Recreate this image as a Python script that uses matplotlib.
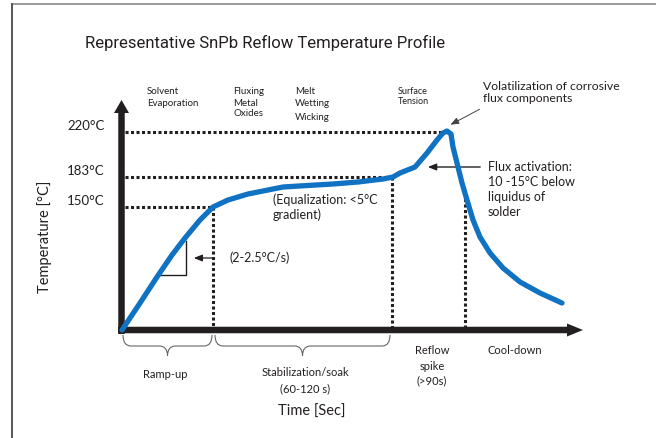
import numpy as np
import matplotlib.pyplot as plt
from matplotlib.path import Path
from matplotlib.patches import PathPatch, FancyArrow

# schematic reflow profile: time (s, not to scale) vs temperature (°C)
time_s = [0, 18, 35, 50, 63, 78, 91, 106, 126, 161, 191, 211, 236, 261,
          271, 278, 293, 305, 315, 321, 325, 329, 331, 335, 340, 345, 351,
          358, 368, 381, 398, 418, 440]
temp_c = [25, 52.4, 78.9, 101.2, 118.5, 136.8, 150, 157.7, 164.3, 172, 174,
          175.3, 177.5, 180.8, 183, 186.3, 191.2, 202.7, 213.4, 219.2, 220.8,
          218.3, 207.6, 194.5, 176.4, 157.7, 136.8, 119.5, 103.3, 88, 73.8,
          62.6, 52.4]

temp_levels = [150, 183, 220]
temp_labels = ["150°C", "183°C", "220°C"]
level_ends = [91, 271, 322]      # where each dotted level meets the curve
phase_ends = [91, 270, 343]      # ramp-up, soak, reflow spike

# the temperature axis of the original is not to scale
scale_c = [-200, 25, 150, 183, 220, 400]
scale_h = [-225, 0, 123, 153, 198, 417]


def fwd(c):
    return np.interp(c, scale_c, scale_h)


def inv(h):
    return np.interp(h, scale_h, scale_c)


W, H = 656, 438
INK = "#231f20"
BLUE = "#1072c2"
GILL = "Lato"

fig = plt.figure(figsize=(W / 100, H / 100), dpi=100)

# layout layer in pixel units
lay = fig.add_axes([0, 0, 1, 1])
lay.set_xlim(0, W)
lay.set_ylim(H, 0)
lay.axis("off")

# data layer
ax = fig.add_axes([122 / W, (H - 330) / H, 500 / W, 250 / H])
ax.set_yscale("function", functions=(fwd, inv))
ax.set_xlim(0, 500)
ax.set_ylim(25, inv(250))
ax.axis("off")
ax.patch.set_alpha(0)

# frame of the original picture
lay.plot([12, W], [4, 4], color="#8a8a8a", lw=1.2)
lay.plot([12, 12], [4, H], color="#3a3a3a", lw=1.2)

# axes arrows
lay.add_patch(FancyArrow(121.5, 334, 0, -234, width=6.5, head_width=15,
                         head_length=13, length_includes_head=True, color=INK, lw=0))
lay.add_patch(FancyArrow(118, 330, 465, 0, width=6.5, head_width=13,
                         head_length=16, length_includes_head=True, color=INK, lw=0))

dots = dict(color=INK, lw=2.2, ls=(0, (1.0, 0.8)), clip_on=False)
for lvl, t_end in zip(temp_levels, level_ends):
    ax.plot([3, t_end], [lvl, lvl], **dots)
curve_at = np.interp(phase_ends, time_s, temp_c)
for t, top in zip(phase_ends, curve_at):
    ax.plot([t, t], [top, 25], **dots)

ax.plot(time_s, temp_c, color=BLUE, lw=3.8, solid_joinstyle="round",
        solid_capstyle="round", clip_on=False, zorder=5)

for lvl, lab in zip(temp_levels, temp_labels):
    ax.annotate(lab, xy=(0, lvl), xycoords=("axes fraction", "data"),
                xytext=(-12.5, 4), textcoords="offset points", ha="right",
                va="center", fontsize=9.5, family=GILL, color=INK)


def brace(x0, x1, y0=335, d1=11, d2=21, r=8):
    xm = (x0 + x1) / 2
    verts = [(x0, y0), (x0, y0 + d1), (x0 + r, y0 + d1),
             (xm - r, y0 + d1),
             (xm, y0 + d1), (xm, y0 + d2),
             (xm, y0 + d1), (xm + r, y0 + d1),
             (x1 - r, y0 + d1),
             (x1, y0 + d1), (x1, y0)]
    codes = [Path.MOVETO, Path.CURVE3, Path.CURVE3, Path.LINETO,
             Path.CURVE3, Path.CURVE3, Path.CURVE3, Path.CURVE3,
             Path.LINETO, Path.CURVE3, Path.CURVE3]
    lay.add_patch(PathPatch(Path(verts, codes), fill=False, ec="#666666", lw=0.8))


brace(123, 212)
brace(215, 390)

# slope triangle
lay.plot([158, 186, 186], [275, 275, 241], color=INK, lw=1)
lay.annotate("", xy=(191, 258), xytext=(216, 258),
             arrowprops=dict(arrowstyle="-|>,head_length=0.5,head_width=0.2",
                             color=INK, lw=0.9))
lay.annotate("", xy=(448, 126), xytext=(482, 108),
             arrowprops=dict(arrowstyle="-|>,head_length=0.5,head_width=0.2",
                             color="#444444", lw=0.7))
lay.annotate("", xy=(425, 167), xytext=(483, 167),
             arrowprops=dict(arrowstyle="-|>,head_length=0.5,head_width=0.2",
                             color=INK, lw=1.0))


def lines(x, ys, texts, size, ha="left"):
    for y, s in zip(ys, texts):
        lay.text(x, y, s, ha=ha, va="center", fontsize=size, family=GILL, color=INK)


lay.text(85, 43, "Representative SnPb Reflow Temperature Profile", ha="left",
         va="center", fontsize=12, family="Roboto", color=INK)

lines(147, [91, 103], ["Solvent", "Evaporation"], 7)
lines(233, [91, 103, 114], ["Fluxing", "Metal", "Oxides"], 7)
lines(295, [91, 104, 118], ["Melt", "Wetting", "Wicking"], 7)
lines(398, [91, 102], ["Surface", "Tension"], 6.5)
lines(483, [87, 99], ["Volatilization of corrosive", "flux components"], 8.8)
lines(488, [167, 182, 197, 212],
      ["Flux activation:", "10 -15°C below", "liquidus of", "solder"], 9)
lines(273, [200, 215], ["(Equalization: <5°C", "gradient)"], 9)
lines(230, [258], ["(2-2.5°C/s)"], 9)
lines(165, [375], ["Ramp-up"], 8, ha="center")
lines(305, [373, 389], ["Stabilization/soak", "(60-120 s)"], 8, ha="center")
lines(432, [350, 366, 381], ["Reflow", "spike", "(>90s)"], 8, ha="center")
lines(488, [351], ["Cool-down"], 8)
lines(312, [412], ["Time [Sec]"], 10.5, ha="center")
lay.text(45, 237, "Temperature [°C]", rotation=90, ha="center", va="center",
         fontsize=10.5, family=GILL, color=INK)

fig.savefig("out.png", dpi=100)
